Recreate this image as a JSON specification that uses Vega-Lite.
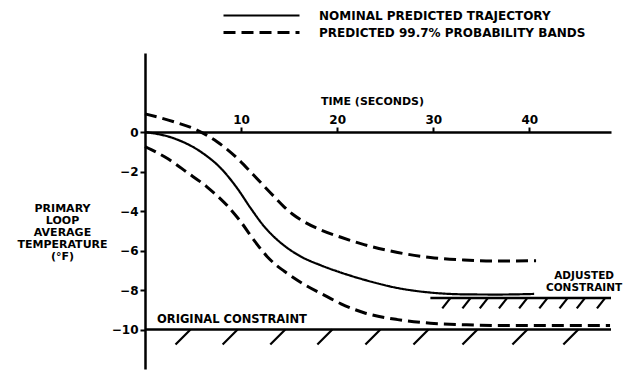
{
  "$schema": "https://vega.github.io/schema/vega-lite/v6.json",
  "width": 466,
  "height": 316,
  "autosize": {"type": "none"},
  "padding": {"left": 145, "top": 53, "right": 16, "bottom": 2},
  "background": "white",
  "config": {
    "view": {"stroke": null},
    "font": "DejaVu Sans",
    "axis": {
      "domainColor": "black", "domainWidth": 2.5, "tickColor": "black", "tickWidth": 2,
      "labelColor": "black", "labelFont": "DejaVu Sans", "labelFontWeight": "bold", "labelFontSize": 12,
      "titleColor": "black", "titleFont": "DejaVu Sans", "titleFontWeight": "bold", "grid": false
    },
    "legend": {
      "labelFont": "DejaVu Sans", "labelFontWeight": "bold", "labelFontSize": 12, "labelColor": "black", "labelLimit": 400
    }
  },
  "datasets": {
    "curves": [
      {"t": 0, "v": 0, "line": "nominal", "series": "NOMINAL PREDICTED TRAJECTORY"},
      {"t": 3.0, "v": -0.32, "line": "nominal", "series": "NOMINAL PREDICTED TRAJECTORY"},
      {"t": 5.8, "v": -1.0, "line": "nominal", "series": "NOMINAL PREDICTED TRAJECTORY"},
      {"t": 7.9, "v": -1.84, "line": "nominal", "series": "NOMINAL PREDICTED TRAJECTORY"},
      {"t": 9.6, "v": -2.85, "line": "nominal", "series": "NOMINAL PREDICTED TRAJECTORY"},
      {"t": 11.0, "v": -3.86, "line": "nominal", "series": "NOMINAL PREDICTED TRAJECTORY"},
      {"t": 12.4, "v": -4.78, "line": "nominal", "series": "NOMINAL PREDICTED TRAJECTORY"},
      {"t": 13.2, "v": -5.2, "line": "nominal", "series": "NOMINAL PREDICTED TRAJECTORY"},
      {"t": 14.1, "v": -5.6, "line": "nominal", "series": "NOMINAL PREDICTED TRAJECTORY"},
      {"t": 15.1, "v": -5.97, "line": "nominal", "series": "NOMINAL PREDICTED TRAJECTORY"},
      {"t": 16.2, "v": -6.3, "line": "nominal", "series": "NOMINAL PREDICTED TRAJECTORY"},
      {"t": 18.3, "v": -6.75, "line": "nominal", "series": "NOMINAL PREDICTED TRAJECTORY"},
      {"t": 20.4, "v": -7.12, "line": "nominal", "series": "NOMINAL PREDICTED TRAJECTORY"},
      {"t": 22.8, "v": -7.48, "line": "nominal", "series": "NOMINAL PREDICTED TRAJECTORY"},
      {"t": 26.3, "v": -7.9, "line": "nominal", "series": "NOMINAL PREDICTED TRAJECTORY"},
      {"t": 29.7, "v": -8.13, "line": "nominal", "series": "NOMINAL PREDICTED TRAJECTORY"},
      {"t": 33.2, "v": -8.22, "line": "nominal", "series": "NOMINAL PREDICTED TRAJECTORY"},
      {"t": 36.7, "v": -8.23, "line": "nominal", "series": "NOMINAL PREDICTED TRAJECTORY"},
      {"t": 40.5, "v": -8.2, "line": "nominal", "series": "NOMINAL PREDICTED TRAJECTORY"},
      {"t": 0, "v": 0.92, "line": "upper", "series": "PREDICTED 99.7% PROBABILITY BANDS"},
      {"t": 3.0, "v": 0.52, "line": "upper", "series": "PREDICTED 99.7% PROBABILITY BANDS"},
      {"t": 5.4, "v": 0.1, "line": "upper", "series": "PREDICTED 99.7% PROBABILITY BANDS"},
      {"t": 7.5, "v": -0.49, "line": "upper", "series": "PREDICTED 99.7% PROBABILITY BANDS"},
      {"t": 9.6, "v": -1.33, "line": "upper", "series": "PREDICTED 99.7% PROBABILITY BANDS"},
      {"t": 11.3, "v": -2.18, "line": "upper", "series": "PREDICTED 99.7% PROBABILITY BANDS"},
      {"t": 13.1, "v": -3.1, "line": "upper", "series": "PREDICTED 99.7% PROBABILITY BANDS"},
      {"t": 14.5, "v": -3.8, "line": "upper", "series": "PREDICTED 99.7% PROBABILITY BANDS"},
      {"t": 15.3, "v": -4.14, "line": "upper", "series": "PREDICTED 99.7% PROBABILITY BANDS"},
      {"t": 16.2, "v": -4.44, "line": "upper", "series": "PREDICTED 99.7% PROBABILITY BANDS"},
      {"t": 18.3, "v": -4.96, "line": "upper", "series": "PREDICTED 99.7% PROBABILITY BANDS"},
      {"t": 20.4, "v": -5.33, "line": "upper", "series": "PREDICTED 99.7% PROBABILITY BANDS"},
      {"t": 22.8, "v": -5.7, "line": "upper", "series": "PREDICTED 99.7% PROBABILITY BANDS"},
      {"t": 26.3, "v": -6.1, "line": "upper", "series": "PREDICTED 99.7% PROBABILITY BANDS"},
      {"t": 29.7, "v": -6.35, "line": "upper", "series": "PREDICTED 99.7% PROBABILITY BANDS"},
      {"t": 33.2, "v": -6.48, "line": "upper", "series": "PREDICTED 99.7% PROBABILITY BANDS"},
      {"t": 36.7, "v": -6.53, "line": "upper", "series": "PREDICTED 99.7% PROBABILITY BANDS"},
      {"t": 40.7, "v": -6.52, "line": "upper", "series": "PREDICTED 99.7% PROBABILITY BANDS"},
      {"t": 0, "v": -0.74, "line": "lower", "series": "PREDICTED 99.7% PROBABILITY BANDS"},
      {"t": 2.3, "v": -1.33, "line": "lower", "series": "PREDICTED 99.7% PROBABILITY BANDS"},
      {"t": 4.4, "v": -2.05, "line": "lower", "series": "PREDICTED 99.7% PROBABILITY BANDS"},
      {"t": 6.5, "v": -2.8, "line": "lower", "series": "PREDICTED 99.7% PROBABILITY BANDS"},
      {"t": 8.6, "v": -3.75, "line": "lower", "series": "PREDICTED 99.7% PROBABILITY BANDS"},
      {"t": 9.9, "v": -4.5, "line": "lower", "series": "PREDICTED 99.7% PROBABILITY BANDS"},
      {"t": 11.3, "v": -5.45, "line": "lower", "series": "PREDICTED 99.7% PROBABILITY BANDS"},
      {"t": 12.7, "v": -6.3, "line": "lower", "series": "PREDICTED 99.7% PROBABILITY BANDS"},
      {"t": 13.6, "v": -6.72, "line": "lower", "series": "PREDICTED 99.7% PROBABILITY BANDS"},
      {"t": 14.5, "v": -7.05, "line": "lower", "series": "PREDICTED 99.7% PROBABILITY BANDS"},
      {"t": 16.5, "v": -7.7, "line": "lower", "series": "PREDICTED 99.7% PROBABILITY BANDS"},
      {"t": 19.0, "v": -8.35, "line": "lower", "series": "PREDICTED 99.7% PROBABILITY BANDS"},
      {"t": 20.4, "v": -8.7, "line": "lower", "series": "PREDICTED 99.7% PROBABILITY BANDS"},
      {"t": 22.8, "v": -9.15, "line": "lower", "series": "PREDICTED 99.7% PROBABILITY BANDS"},
      {"t": 26.3, "v": -9.5, "line": "lower", "series": "PREDICTED 99.7% PROBABILITY BANDS"},
      {"t": 29.7, "v": -9.68, "line": "lower", "series": "PREDICTED 99.7% PROBABILITY BANDS"},
      {"t": 33.2, "v": -9.76, "line": "lower", "series": "PREDICTED 99.7% PROBABILITY BANDS"},
      {"t": 36.7, "v": -9.8, "line": "lower", "series": "PREDICTED 99.7% PROBABILITY BANDS"},
      {"t": 42.2, "v": -9.8, "line": "lower", "series": "PREDICTED 99.7% PROBABILITY BANDS"},
      {"t": 48.4, "v": -9.8, "line": "lower", "series": "PREDICTED 99.7% PROBABILITY BANDS"}
    ],
    "constraints": [
      {"t": 0, "t2": 48.5, "v": -10},
      {"t": 29.7, "t2": 48.5, "v": -8.4}
    ],
    "hatches": [
      {"t": 3.18, "t2": 4.74, "v": -10.76, "v2": -10},
      {"t": 8.08, "t2": 9.64, "v": -10.76, "v2": -10},
      {"t": 13.04, "t2": 14.6, "v": -10.76, "v2": -10},
      {"t": 17.94, "t2": 19.5, "v": -10.76, "v2": -10},
      {"t": 22.94, "t2": 24.5, "v": -10.76, "v2": -10},
      {"t": 27.94, "t2": 29.5, "v": -10.76, "v2": -10},
      {"t": 33.04, "t2": 34.6, "v": -10.76, "v2": -10},
      {"t": 38.24, "t2": 39.8, "v": -10.76, "v2": -10},
      {"t": 43.54, "t2": 45.1, "v": -10.76, "v2": -10},
      {"t": 30.94, "t2": 31.8, "v": -8.93, "v2": -8.4},
      {"t": 33.04, "t2": 33.9, "v": -8.93, "v2": -8.4},
      {"t": 34.84, "t2": 35.7, "v": -8.93, "v2": -8.4},
      {"t": 36.84, "t2": 37.7, "v": -8.93, "v2": -8.4},
      {"t": 38.94, "t2": 39.8, "v": -8.93, "v2": -8.4},
      {"t": 41.04, "t2": 41.9, "v": -8.93, "v2": -8.4},
      {"t": 43.14, "t2": 44.0, "v": -8.93, "v2": -8.4},
      {"t": 44.94, "t2": 45.8, "v": -8.93, "v2": -8.4},
      {"t": 47.04, "t2": 47.9, "v": -8.93, "v2": -8.4}
    ],
    "labels": [
      {"t": 1.25, "v": -9.52, "text": "ORIGINAL CONSTRAINT"}
    ],
    "labels2": [
      {"t": 45.7, "v": -7.27, "text": "ADJUSTED\nCONSTRAINT"}
    ]
  },
  "layer": [
    {
      "data": {"name": "curves"},
      "mark": {"type": "line", "color": "black", "strokeCap": "butt", "interpolate": "monotone"},
      "encoding": {
        "x": {
          "field": "t", "type": "quantitative",
          "scale": {"domain": [0, 48.5], "nice": false, "zero": false},
          "axis": {
            "orient": "top", "offset": -79, "values": [10, 20, 30, 40], "tickSize": 5,
            "labelPadding": 1, "title": "TIME (SECONDS)", "titleFontSize": 11,
            "titleX": 227, "titleY": -31, "titleBaseline": "middle", "titleAlign": "center"
          }
        },
        "y": {
          "field": "v", "type": "quantitative",
          "scale": {"domain": [-12, 4], "nice": false, "zero": false},
          "axis": {
            "values": [0, -2, -4, -6, -8, -10], "tickSize": 5, "labelPadding": 2,
            "title": ["PRIMARY", "LOOP", "AVERAGE", "TEMPERATURE", "(°F)"],
            "titleAngle": 0, "titleFontSize": 11, "titleLineHeight": 12,
            "titleAlign": "center", "titleBaseline": "top", "titleX": -83, "titleY": 149
          }
        },
        "detail": {"field": "line", "type": "nominal"},
        "strokeDash": {
          "field": "series", "type": "nominal",
          "scale": {
            "domain": ["NOMINAL PREDICTED TRAJECTORY", "PREDICTED 99.7% PROBABILITY BANDS"],
            "range": [[1, 0], [12, 6]]
          },
          "legend": {
            "title": null, "orient": "none", "legendX": 105.5, "legendY": -48.5,
            "symbolType": "M-4,0H4", "symbolSize": 361, "symbolStrokeWidth": 2.5,
            "symbolStrokeColor": "black", "symbolFillColor": "transparent",
            "labelOffset": 46.5, "rowPadding": 0
          }
        },
        "strokeWidth": {
          "field": "series", "type": "nominal",
          "scale": {
            "domain": ["NOMINAL PREDICTED TRAJECTORY", "PREDICTED 99.7% PROBABILITY BANDS"],
            "range": [2.2, 3]
          },
          "legend": null
        }
      }
    },
    {
      "data": {"name": "constraints"},
      "mark": {"type": "rule", "color": "black", "strokeWidth": 2.5},
      "encoding": {
        "x": {"field": "t", "type": "quantitative"},
        "x2": {"field": "t2"},
        "y": {"field": "v", "type": "quantitative"}
      }
    },
    {
      "data": {"name": "hatches"},
      "mark": {"type": "rule", "color": "black", "strokeWidth": 2.2},
      "encoding": {
        "x": {"field": "t", "type": "quantitative"},
        "x2": {"field": "t2"},
        "y": {"field": "v", "type": "quantitative"},
        "y2": {"field": "v2"}
      }
    },
    {
      "data": {"name": "labels"},
      "mark": {"type": "text", "align": "left", "baseline": "middle", "fontWeight": "bold", "fontSize": 11.5, "font": "DejaVu Sans", "color": "black"},
      "encoding": {
        "x": {"field": "t", "type": "quantitative"},
        "y": {"field": "v", "type": "quantitative"},
        "text": {"field": "text", "type": "nominal"}
      }
    },
    {
      "data": {"name": "labels2"},
      "mark": {"type": "text", "align": "center", "baseline": "middle", "lineBreak": "\n", "lineHeight": 12, "fontWeight": "bold", "fontSize": 10.5, "font": "DejaVu Sans", "color": "black"},
      "encoding": {
        "x": {"field": "t", "type": "quantitative"},
        "y": {"field": "v", "type": "quantitative"},
        "text": {"field": "text", "type": "nominal"}
      }
    }
  ]
}
